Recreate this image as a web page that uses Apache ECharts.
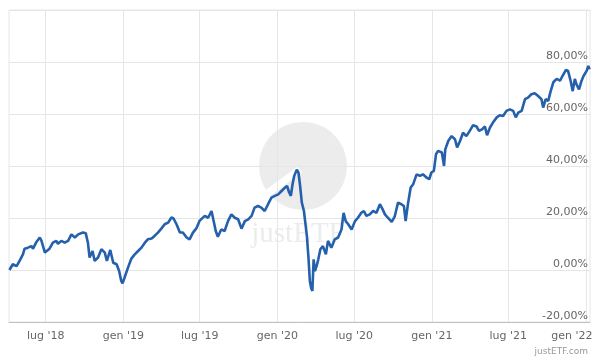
<!DOCTYPE html>
<html><head><meta charset="utf-8">
<script src="https://cdn.jsdelivr.net/npm/echarts@6/dist/echarts.min.js"></script>
<style>html,body{margin:0;padding:0;background:#fff}#c{width:600px;height:360px}</style>
</head><body><div id="c"></div>
<script>
const dates = [
'2018-04-06','2018-04-14','2018-04-23','2018-04-30','2018-05-08','2018-05-12','2018-05-20','2018-05-28','2018-06-01','2018-06-09',
'2018-06-17','2018-06-21','2018-06-29','2018-07-03','2018-07-10','2018-07-18','2018-07-26','2018-07-30','2018-08-07','2018-08-15',
'2018-08-23','2018-08-31','2018-09-08','2018-09-16','2018-09-27','2018-10-04','2018-10-09','2018-10-13','2018-10-20','2018-10-25',
'2018-11-02','2018-11-10','2018-11-18','2018-11-23','2018-12-01','2018-12-08','2018-12-16','2018-12-22','2018-12-27','2018-12-30',
'2019-01-04','2019-01-12','2019-01-20','2019-01-28','2019-02-05','2019-02-13','2019-02-21','2019-02-28','2019-03-09','2019-03-16',
'2019-03-24','2019-04-01','2019-04-09','2019-04-17','2019-04-25','2019-04-30','2019-05-07','2019-05-15','2019-05-22','2019-05-31',
'2019-06-07','2019-06-15','2019-06-23','2019-07-01','2019-07-13','2019-07-21','2019-07-29','2019-08-02','2019-08-08','2019-08-13',
'2019-08-21','2019-08-29','2019-09-06','2019-09-14','2019-09-22','2019-09-30','2019-10-08','2019-10-16','2019-10-24','2019-11-01',
'2019-11-08','2019-11-16','2019-11-24','2019-12-02','2019-12-10','2019-12-18','2019-12-26','2020-01-03','2020-01-11','2020-01-19',
'2020-01-24','2020-01-29','2020-02-02','2020-02-06','2020-02-10','2020-02-16','2020-02-20','2020-02-24','2020-02-28','2020-03-04',
'2020-03-08','2020-03-11','2020-03-15','2020-03-18','2020-03-21','2020-03-24','2020-03-27','2020-03-30','2020-04-03','2020-04-07',
'2020-04-12','2020-04-18','2020-04-25','2020-04-30','2020-05-08','2020-05-16','2020-05-24','2020-06-01','2020-06-06','2020-06-11',
'2020-06-17','2020-06-25','2020-07-03','2020-07-10','2020-07-18','2020-07-24','2020-07-30','2020-08-07','2020-08-15','2020-08-23',
'2020-08-31','2020-09-06','2020-09-12','2020-09-19','2020-09-28','2020-10-05','2020-10-13','2020-10-21','2020-10-27','2020-10-31',
'2020-11-06','2020-11-12','2020-11-18','2020-11-26','2020-12-04','2020-12-11','2020-12-20','2020-12-26','2020-12-31','2021-01-06',
'2021-01-11','2021-01-16','2021-01-20','2021-01-25','2021-01-30','2021-02-02','2021-02-09','2021-02-17','2021-02-25','2021-03-02',
'2021-03-09','2021-03-16','2021-03-24','2021-04-01','2021-04-09','2021-04-17','2021-04-23','2021-04-30','2021-05-07','2021-05-12',
'2021-05-19','2021-05-26','2021-06-04','2021-06-11','2021-06-19','2021-06-27','2021-07-05','2021-07-13','2021-07-19','2021-07-25',
'2021-08-02','2021-08-10','2021-08-17','2021-08-25','2021-09-02','2021-09-10','2021-09-18','2021-09-22','2021-09-28','2021-10-04',
'2021-10-09','2021-10-16','2021-10-24','2021-11-01','2021-11-07','2021-11-15','2021-11-20','2021-11-26','2021-12-01','2021-12-06',
'2021-12-10','2021-12-16','2021-12-22','2021-12-27','2022-01-03','2022-01-07','2022-01-10'
];
const values = [
0.0,2.2,1.5,3.5,6.0,8.2,8.6,9.2,8.2,10.8,
12.5,11.2,6.7,6.4,8.2,10.5,11.2,10.1,11.2,10.5,
11.2,13.7,12.5,13.7,14.4,14.1,10.5,4.8,7.3,3.5,
4.8,8.0,6.7,3.5,7.7,2.8,2.2,-0.4,-4.2,-5.1,
-2.9,0.9,4.4,6.0,7.3,8.6,10.5,11.8,12.1,13.1,
14.4,15.9,17.6,18.2,20.2,19.8,17.6,14.4,14.4,12.5,
11.8,14.4,16.0,19.0,20.8,20.1,22.7,22.0,15.0,12.8,
15.6,15.0,18.8,21.4,20.1,19.5,15.9,18.8,19.5,20.8,
24.0,24.6,24.0,22.7,25.3,27.8,28.5,29.1,30.4,31.7,
32.3,29.8,28.5,33.0,36.2,38.6,37.5,32.3,25.9,22.7,
22.0,13.1,4.1,-4.2,-6.8,-8.1,4.1,-0.4,1.5,4.1,
8.0,9.2,6.0,11.2,8.6,11.8,12.5,15.6,22.0,18.8,
17.6,15.6,18.8,20.1,22.0,22.7,20.8,21.4,22.7,22.0,
25.3,23.5,21.4,20.1,18.5,20.5,25.9,25.3,24.6,18.8,
25.9,31.7,33.0,36.8,36.2,36.8,35.5,34.9,37.5,38.1,
44.5,45.8,46.4,45.2,40.0,46.4,49.6,51.5,50.3,47.1,
49.6,52.8,51.5,53.5,55.7,55.2,53.5,54.1,55.2,51.8,
54.8,56.7,58.7,59.5,59.2,61.2,61.8,61.2,58.7,60.5,
61.2,65.7,66.3,67.6,68.0,66.9,65.7,62.5,65.7,65.0,
68.3,72.2,73.5,72.8,74.7,77.0,76.6,72.8,68.8,73.5,
71.4,69.5,72.8,74.7,76.6,78.5,77.2
];
const xTickDates = ['2018-07-01','2019-01-01','2019-07-01','2020-01-01','2020-07-01','2021-01-01','2021-07-01','2022-01-01'];
const xTickLabels = ["lug '18","gen '19","lug '19","gen '20","lug '20","gen '21","lug '21","gen '22"];
const xMin = '2018-04-05', xMax = '2022-01-11';
const yMin = -20, yMax = 100, yStep = 20;

function ms(s) { const p = s.split('-').map(Number); return Date.UTC(p[0], p[1] - 1, p[2]); }
const tickMs = xTickDates.map(ms);

const FONT = 'DejaVu Sans';
const chart = echarts.init(document.getElementById('c'), null, {renderer: 'canvas'});
chart.setOption({
  animation: false,
  backgroundColor: '#fff',
  grid: {left: 9, right: 10, top: 10, bottom: 38, show: true, borderColor: '#e6e6e6', borderWidth: 1, containLabel: false, outerBoundsMode: 'none'},
  graphic: [
    {type: 'circle', shape: {cx: 303, cy: 166, r: 44}, style: {fill: '#ececec'}, z: -10, silent: true},
    {type: 'polygon', shape: {points: [[248, 203], [297, 167], [302, 172], [253, 209]]}, style: {fill: '#ffffff'}, z: -9, silent: true},
    {type: 'text', x: 298, y: 234, style: {text: 'justETF', font: '29px "Liberation Serif", serif', fill: '#ececec', align: 'center', verticalAlign: 'middle'}, z: -9, silent: true},
    {type: 'text', right: 12, top: 347, style: {text: 'justETF.com', font: '9px "DejaVu Sans"', fill: '#999999'}, z: 10, silent: true}
  ],
  xAxis: {
    type: 'value', min: ms(xMin), max: ms(xMax), scale: true,
    axisLine: {show: true, onZero: false, lineStyle: {color: '#c0c0c0', width: 1}},
    axisTick: {show: false, customValues: tickMs},
    splitLine: {show: true, lineStyle: {color: '#e6e6e6', width: 1}},
    axisLabel: {
      customValues: tickMs, margin: 9, color: '#666', fontSize: 11, fontFamily: FONT,
      showMinLabel: true, showMaxLabel: true,
      formatter: function (value) {
        const i = tickMs.indexOf(value);
        if (i < 0) return '';
        const t = xTickLabels[i];
        return i === xTickLabels.length - 1 ? '{last|' + t + '}' : t;
      },
      rich: {last: {padding: [0, 28, 0, 0], color: '#666', fontSize: 11, fontFamily: FONT}}
    }
  },
  yAxis: {
    type: 'value', position: 'right', min: yMin, max: yMax, interval: yStep,
    axisLine: {show: false}, axisTick: {show: false},
    splitLine: {show: true, lineStyle: {color: '#e6e6e6', width: 1}},
    axisLabel: {
      inside: true, margin: 2, verticalAlign: 'bottom', color: '#666', fontSize: 11, fontFamily: FONT,
      formatter: v => v >= yMax ? '' : v.toFixed(2).replace('.', ',') + '%'
    }
  },
  series: [{
    type: 'line', showSymbol: false, symbol: 'none',
    data: dates.map((d, i) => [ms(d), values[i]]),
    lineStyle: {color: '#2560ac', width: 2.6},
    z: 5
  }]
});
</script></body></html>
